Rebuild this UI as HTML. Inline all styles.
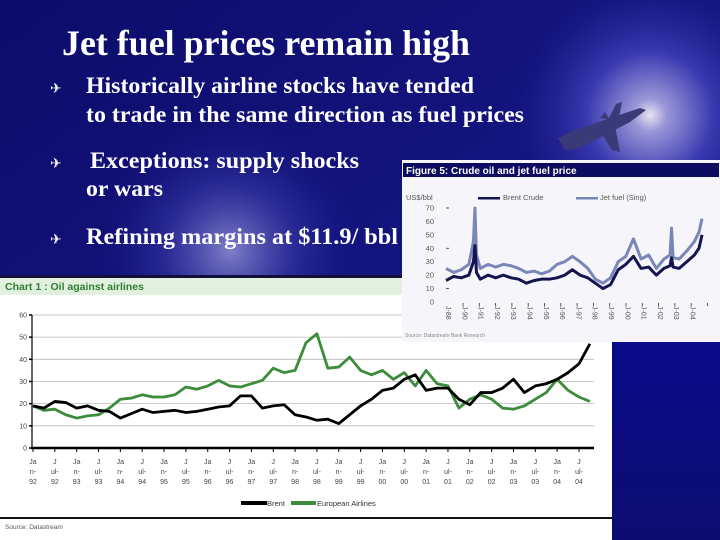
<!DOCTYPE html>
<html><head><meta charset="utf-8"><style>
html,body{margin:0;padding:0;width:720px;height:540px;overflow:hidden;}
svg{display:block;}
</style></head><body>
<svg id="s" width="720" height="540" viewBox="0 0 720 540" xmlns="http://www.w3.org/2000/svg">
<defs>
<radialGradient id="glow" cx="650" cy="115" r="140" gradientUnits="userSpaceOnUse">
<stop offset="0" stop-color="#e8e4f0"/><stop offset="0.12" stop-color="#9a96d8"/><stop offset="0.45" stop-color="#3a3ab0"/><stop offset="1" stop-color="#1a1a8c" stop-opacity="0"/></radialGradient>
<radialGradient id="glow2" cx="230" cy="250" r="130" gradientUnits="userSpaceOnUse">
<stop offset="0" stop-color="#8080c8"/><stop offset="0.5" stop-color="#3a3aa8" stop-opacity="0.6"/><stop offset="1" stop-color="#1a1a8c" stop-opacity="0"/></radialGradient>
<linearGradient id="bg" x1="0" y1="0" x2="1" y2="1"><stop offset="0" stop-color="#0c0c6a"/><stop offset="1" stop-color="#1c1c94"/></linearGradient>
<linearGradient id="navy" x1="0" y1="0" x2="0" y2="1"><stop offset="0" stop-color="#0a0a8a"/><stop offset="1" stop-color="#0c0c70"/></linearGradient>
</defs>
<rect width="720" height="540" fill="url(#bg)"/>
<rect width="720" height="540" fill="url(#glow)"/>
<rect width="720" height="540" fill="url(#glow2)"/>
<g fill="#3a3a78">
<polygon points="558,138 575,130 640,108 646,110 630,122 580,148 565,150"/>
<polygon points="598,128 612,150 620,152 615,126"/>
<polygon points="606,124 616,104 622,102 618,122"/>
<polygon points="600,118 605,112 610,120"/>
<polygon points="650,178 720,210 720,218 646,184" fill="#a0a0d8" opacity="0.45"/>
</g>
<text x="62" y="55" font-family="Liberation Serif, serif" font-weight="bold" font-size="36" fill="#fff" textLength="408" lengthAdjust="spacingAndGlyphs">Jet fuel prices remain high</text>
<g font-family="Liberation Serif, serif" font-weight="bold" font-size="23" fill="#fff">
<text x="50" y="93" font-family="DejaVu Sans, sans-serif" font-size="14">✈</text>
<text x="86" y="93" textLength="388" lengthAdjust="spacingAndGlyphs">Historically airline stocks have tended</text>
<text x="86" y="122" textLength="438" lengthAdjust="spacingAndGlyphs">to trade in the same direction as fuel prices</text>
<text x="50" y="168" font-family="DejaVu Sans, sans-serif" font-size="14">✈</text>
<text x="90" y="168" textLength="269" lengthAdjust="spacingAndGlyphs">Exceptions: supply shocks</text>
<text x="86" y="196" textLength="77" lengthAdjust="spacingAndGlyphs">or wars</text>
<text x="50" y="244" font-family="DejaVu Sans, sans-serif" font-size="14">✈</text>
<text x="86" y="244" textLength="312" lengthAdjust="spacingAndGlyphs">Refining margins at $11.9/ bbl</text>
</g>

<!-- Chart 1 -->
<g>
<rect x="0" y="276" width="612" height="264" fill="#fff"/>
<rect x="0" y="275" width="402" height="3" fill="#10103a"/>
<rect x="0" y="278" width="402" height="17" fill="#e2f0e0"/>
<text x="5" y="290" font-family="Liberation Sans, sans-serif" font-weight="bold" font-size="10.5" fill="#2e7d32">Chart 1 : Oil against airlines</text>
<g id="c1grid"></g>
<g id="c1lines"></g>
<g id="c1x" font-family="Liberation Sans, sans-serif" font-size="7" fill="#444"></g>
<g font-family="Liberation Sans, sans-serif" font-size="7.5" fill="#333">
<rect x="241" y="501" width="26" height="4" fill="#000"/>
<text x="267" y="506">Brent</text>
<rect x="291" y="501" width="25" height="4" fill="#3c8c3c"/>
<text x="317" y="506">European Airlines</text>
</g>
<rect x="0" y="517" width="612" height="2" fill="#111"/>
<text x="5" y="529" font-family="Liberation Sans, sans-serif" font-size="6.5" fill="#555">Source: Datastream</text>
</g>
<rect x="612" y="342" width="108" height="198" fill="url(#navy)"/>

<!-- Figure 5 -->
<g>
<rect x="402" y="160" width="318" height="182" fill="#f6f6fa"/>
<rect x="403" y="163" width="316" height="14" fill="#0c0c60"/>
<text x="406" y="174" font-family="Liberation Sans, sans-serif" font-weight="bold" font-size="10" fill="#fff">Figure 5: Crude oil and jet fuel price</text>
<g font-family="Liberation Sans, sans-serif" font-size="7.5" fill="#555">
<text x="406" y="200">US$/bbl</text>
<rect x="478" y="197" width="22" height="2.5" fill="#141450"/>
<text x="503" y="200">Brent Crude</text>
<rect x="576" y="197" width="22" height="2.5" fill="#7a86b8"/>
<text x="600" y="200">Jet fuel (Sing)</text>
</g>
<g id="f5y" font-family="Liberation Sans, sans-serif" font-size="7.5" fill="#555"></g>
<g id="f5lines"></g>
<g id="f5x" font-family="Liberation Sans, sans-serif" font-size="7" fill="#555"></g>
<text x="405" y="337" font-family="Liberation Sans, sans-serif" font-size="5" fill="#888">Source: Datastream Bank Research</text>
</g>
</svg>
<script>
// ---- Chart 1 data (quarterly, Jan 92 .. Oct 04) ----
const c1Brent = [19,18,21,20.5,18,19,17,16.5,13.5,15.5,17.5,16,16.5,17,16,16.5,17.5,18.5,19,23.5,23.5,18,19,19.5,15,14,12.5,13,11,15,19,22,26,27,31,33,26,27,27,22,19.5,25,25,27,31,25,28,29,31,34,38,47];
const c1Airlines = [19,17,17.5,15,13.5,14.5,15,18,22,22.5,24,23,23,24,27.5,26.5,28,30.5,28,27.5,29,30.5,36,34,35,47.5,51.5,36,36.5,41,35,33,35,31,34,28,35,29,28,18,22,24,22,18,17.5,19,22,25,31,26,23,21];
const c1YTicks = [0,10,20,30,40,50,60];
const c1XLabels = [["Ja","n-","92"],["J","ul-","92"],["Ja","n-","93"],["J","ul-","93"],["Ja","n-","94"],["J","ul-","94"],["Ja","n-","95"],["J","ul-","95"],["Ja","n-","96"],["J","ul-","96"],["Ja","n-","97"],["J","ul-","97"],["Ja","n-","98"],["J","ul-","98"],["Ja","n-","99"],["J","ul-","99"],["Ja","n-","00"],["J","ul-","00"],["Ja","n-","01"],["J","ul-","01"],["Ja","n-","02"],["J","ul-","02"],["Ja","n-","03"],["J","ul-","03"],["Ja","n-","04"],["J","ul-","04"]];
// ---- Figure 5 data ----
const f5Years = [1988.0,1988.5,1989.0,1989.5,1989.8,1989.9,1990.0,1990.25,1990.76,1991.26,1991.76,1992.27,1992.77,1993.27,1993.78,1994.28,1994.78,1995.29,1995.79,1996.29,1996.8,1997.3,1997.8,1998.3,1998.8,1999.3,1999.8,2000.3,2000.8,2001.3,2001.8,2002.3,2002.7,2002.8,2002.9,2003.3,2003.8,2004.3,2004.6,2004.8];
const f5Brent = [16,19,18,20,30,42,22,17,20,18,20,18,17,14,16,17,17,18,20,24,20,18,14,10,13,24,28,34,25,26,20,25,27,33,26,25,30,35,40,50];
const f5Jet = [25,22,24,28,45,70,35,25,28,26,28,27,25,22,23,21,23,28,30,34,30,25,17,14,18,30,34,47,32,35,25,32,35,55,33,32,38,45,52,62];
const f5YTicks = [0,10,20,30,40,50,60,70];
const f5XLabels = ["J-88","J-90","J-91","J-92","J-93","J-94","J-95","J-96","J-97","J-98","J-99","J-00","J-01","J-02","J-03","J-04"];

const NS="http://www.w3.org/2000/svg";
function mk(tag,attrs,parent){const e=document.createElementNS(NS,tag);for(const k in attrs)e.setAttribute(k,attrs[k]);parent.appendChild(e);return e;}

const c1x = i => 33 + i*10.92;
const c1xLab = j => 33 + j*21.84;
const c1y = v => 448 - v*2.217;
const g1=document.getElementById('c1grid');
c1YTicks.forEach(v=>{
  if(v>0){const l=mk('line',{x1:32,x2:594,y1:c1y(v),y2:c1y(v),stroke:'#b8b8b8','stroke-width':0.8},g1);
  
  }
  const t=mk('text',{x:27,y:c1y(v)+2.5,'text-anchor':'end','font-family':'Liberation Sans, sans-serif','font-size':7,fill:'#444'},g1);
  t.textContent=v;
  
  
  mk('line',{x1:29,x2:32,y1:c1y(v),y2:c1y(v),stroke:'#000','stroke-width':1.5},g1);
});
const ya=mk('line',{x1:32,x2:32,y1:c1y(60),y2:c1y(0),stroke:'#000','stroke-width':1.2},g1);


const xa=mk('line',{x1:31,x2:594,y1:c1y(0),y2:c1y(0),stroke:'#000','stroke-width':2.5},g1);


const gx1=document.getElementById('c1x');
c1XLabels.forEach((lab,j)=>{
  mk('line',{x1:c1xLab(j),x2:c1xLab(j),y1:448,y2:452,stroke:'#000','stroke-width':1},gx1);
  lab.forEach((s,k)=>{const t=mk('text',{x:c1xLab(j),y:464+k*10,'text-anchor':'middle'},gx1);t.textContent=s;
  
  });
});
const gl1=document.getElementById('c1lines');
const p1=mk('polyline',{points:c1Airlines.map((v,i)=>c1x(i)+','+c1y(v)).join(' '),fill:'none',stroke:'#3c8c3c','stroke-width':2.8,'stroke-linejoin':'round'},gl1);


const p2=mk('polyline',{points:c1Brent.map((v,i)=>c1x(i)+','+c1y(v)).join(' '),fill:'none',stroke:'#000','stroke-width':2.8,'stroke-linejoin':'round'},gl1);



const f5x = yr => 446 + (yr-1988)*15.24;
const f5y = v => 302 - v*1.343;
const gy5=document.getElementById('f5y');
f5YTicks.forEach(v=>{
  const t=mk('text',{x:434,y:f5y(v)+2.5,'text-anchor':'end'},gy5);t.textContent=v;
  
  
  if(v%30===10||v===70) mk('line',{x1:446,x2:449,y1:f5y(v),y2:f5y(v),stroke:'#333','stroke-width':0.8},gy5);
});
const gl5=document.getElementById('f5lines');
const q1=mk('polyline',{points:f5Jet.map((v,i)=>f5x(f5Years[i])+','+f5y(v)).join(' '),fill:'none',stroke:'#7a86b8','stroke-width':3,'stroke-linejoin':'round'},gl5);


const q2=mk('polyline',{points:f5Brent.map((v,i)=>f5x(f5Years[i])+','+f5y(v)).join(' '),fill:'none',stroke:'#141450','stroke-width':3,'stroke-linejoin':'round'},gl5);


const gx5=document.getElementById('f5x');
f5XLabels.forEach((s,j)=>{
  const x=446+j*16.3;
  mk('line',{x1:x+17,x2:x+17,y1:303,y2:306,stroke:'#333','stroke-width':0.8},gx5);
  const t=mk('text',{x:x,y:306,transform:'rotate(90 '+x+' 306)'},gx5);t.textContent=s;
  
  
});
</script>
</body></html>
